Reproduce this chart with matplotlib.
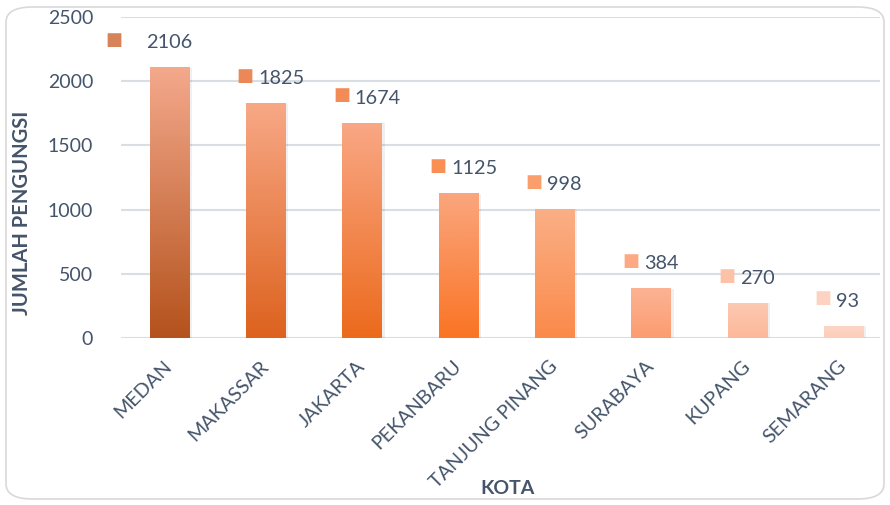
import matplotlib
matplotlib.use("Agg")
import matplotlib.pyplot as plt
import matplotlib.transforms as mtrans
import numpy as np
from matplotlib.colors import LinearSegmentedColormap
from matplotlib.patches import FancyBboxPatch

cities = ["MEDAN", "MAKASSAR", "JAKARTA", "PEKANBARU", "TANJUNG PINANG",
          "SURABAYA", "KUPANG", "SEMARANG"]
values = [2106, 1825, 1674, 1125, 998, 384, 270, 93]
y_ticks = [0, 500, 1000, 1500, 2000, 2500]

top_colors = ["#F4A98C", "#F8A886", "#F9A785", "#FAA67E", "#FBAF86",
              "#FCB394", "#FDC9B2", "#FDD6C6"]
bottom_colors = ["#B4521C", "#DD621E", "#EC6A1C", "#FA7424", "#FA8A4A",
                 "#FB9C70", "#FCB89A", "#FDCDB8"]

txt = "#44546A"
plt.rcParams['font.family'] = ['Lato', 'DejaVu Sans']

fig = plt.figure(figsize=(8.9, 5.05), dpi=100)
fig.patches.append(FancyBboxPatch((6/890, 6/505), 878/890, 492/505,
                                  boxstyle="round,pad=0,rounding_size=0.03",
                                  transform=fig.transFigure, fill=False,
                                  edgecolor="#D9D9D9", linewidth=1.2))

ax = fig.add_axes([121/890, 1 - 338/505, 759/890, 321/505])
x = np.arange(len(cities))
bars = ax.bar(x, values, width=0.405, color="none", zorder=3)

grad = np.linspace(0, 1, 256).reshape(-1, 1)
for i, b in enumerate(bars):
    cmap = LinearSegmentedColormap.from_list(f"g{i}", [bottom_colors[i], top_colors[i]])
    x0, w, h = b.get_x(), b.get_width(), b.get_height()
    ax.bar(x0 + w / 2 + 0.02, h, width=w + 0.03, color="#000000",
           alpha=0.06, zorder=2)
    ax.imshow(grad, cmap=cmap, extent=(x0, x0 + w, 0, h), origin="lower",
              aspect="auto", zorder=3)
ax.set_xlim(-0.5, 7.38)
ax.set_ylim(0, 2500)

for i, b in enumerate(bars):
    cx = b.get_x() + b.get_width() / 2
    h = b.get_height()
    dxs, dxt, dys = -14.5, -5, 19
    if i == 0:
        dxs, dxt = -40, -17
    cmap = LinearSegmentedColormap.from_list(f"m{i}", [bottom_colors[i], top_colors[i]])
    ax.annotate("\u25A0", xy=(cx, h), xytext=(dxs, dys + 1), textcoords="offset points",
                ha="center", va="center", fontsize=13, color=cmap(0.55),
                family=["DejaVu Sans"], zorder=5, annotation_clip=False)
    ax.annotate(f"{values[i]}", xy=(cx, h), xytext=(dxt, dys - 1),
                textcoords="offset points", ha="left", va="center",
                fontsize=14.3, color=txt, zorder=5, annotation_clip=False)

ax.set_yticks(y_ticks)
ax.set_yticklabels([str(v) for v in y_ticks])
ax.set_xticks(x)
ax.set_xticklabels(cities, rotation=45, ha="right", rotation_mode="anchor")
ax.tick_params(axis="both", length=0, labelcolor=txt)
ax.tick_params(axis="y", pad=20, labelsize=14)
ax.tick_params(axis="x", pad=14, labelsize=14.2)
off = mtrans.ScaledTranslation(-6/100, 0, fig.dpi_scale_trans)
for lab in ax.get_xticklabels():
    lab.set_transform(lab.get_transform() + off)

ax.grid(axis="y", color="#D9DEE4", linewidth=1.5, zorder=0)
ax.set_axisbelow(True)
for s in ax.spines.values():
    s.set_visible(False)

fig.text(22/890, 1 - 213/505, "JUMLAH PENGUNGSI", rotation=90, ha="center",
         va="center", fontsize=14.5, fontweight="bold", color=txt)
fig.text(507/890, 1 - 488/505, "KOTA", ha="center", va="center",
         fontsize=14, fontweight="bold", color=txt)

fig.savefig("out.png", dpi=100)
